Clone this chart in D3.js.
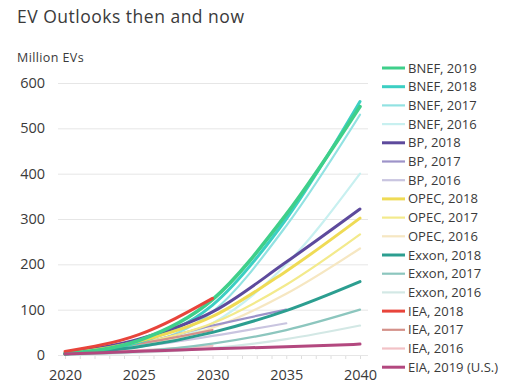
<!DOCTYPE html>
<html>
<head>
<meta charset="utf-8">
<script src="https://cdn.jsdelivr.net/npm/d3@7"></script>
<style>
  html, body { margin: 0; padding: 0; background: #fff; }
  text { font-family: "Open Sans", sans-serif; fill: #3a3a3a; }
</style>
</head>
<body>
<svg id="chart" width="513" height="385"></svg>
<script>
// series, in legend order
const seriesNames = ['BNEF, 2019', 'BNEF, 2018', 'BNEF, 2017', 'BNEF, 2016',
  'BP, 2018', 'BP, 2017', 'BP, 2016',
  'OPEC, 2018', 'OPEC, 2017', 'OPEC, 2016',
  'Exxon, 2018', 'Exxon, 2017', 'Exxon, 2016',
  'IEA, 2018', 'IEA, 2017', 'IEA, 2016',
  'EIA, 2019 (U.S.)'];
const seriesColors = ['#3fcf8a', '#3ccfc3', '#92e2e2', '#c8f0f0',
  '#5d4a9c', '#9d93c9', '#c9c5e0',
  '#efdb55', '#f3ea8c', '#f6e7c2',
  '#2c9e90', '#8cc6be', '#d3e8e5',
  '#e8443b', '#d4918a', '#f2c2c6',
  '#b3487f'];
// million EVs by year
const years = [2020, 2025, 2030, 2035, 2040];
const bnef2019 = [3, 32, 122, 310, 548];
const bnef2018 = [3, 28, 110, 300, 559];
const bnef2017 = [2, 22, 95, 285, 530];
const bnef2016 = [2, 18, 70, 200, 400];
const bp2018 = [4, 35, 95, 205, 322];
const bp2017 = [3, 25, 65, 100];
const bp2016 = [2, 18, 42, 70];
const opec2018 = [3, 30, 85, 185, 302];
const opec2017 = [2, 25, 70, 155, 266];
const opec2016 = [2, 20, 60, 135, 235];
const exxon2018 = [2, 18, 50, 98, 162];
const exxon2017 = [1, 8, 25, 55, 100];
const exxon2016 = [1, 5, 15, 35, 65];
const iea2018 = [8, 45, 125];
const iea2017 = [5, 25, 55];
const iea2016 = [2, 10, 20];
const eia2019 = [2, 8, 14, 18, 24];
const seriesValues = [bnef2019, bnef2018, bnef2017, bnef2016, bp2018, bp2017, bp2016,
  opec2018, opec2017, opec2016, exxon2018, exxon2017, exxon2016,
  iea2018, iea2017, iea2016, eia2019];
const yTicks = [0, 100, 200, 300, 400, 500, 600];
const xTicks = [2020, 2025, 2030, 2035, 2040];

const svg = d3.select('#chart');
const x = d3.scaleLinear().domain([2020, 2040]).range([65, 360]);
const y = d3.scaleLinear().domain([0, 600]).range([355, 83]);

svg.append('text').attr('x', 17).attr('y', 23).attr('font-size', 17.5).attr('letter-spacing', 0.5)
  .text('EV Outlooks then and now');
svg.append('text').attr('x', 17).attr('y', 62).attr('font-size', 12.5).attr('letter-spacing', 0.4)
  .text('Million EVs');

// gridlines + y labels
const yAxis = d3.axisLeft(y).tickValues(yTicks).tickSize(-310).tickPadding(13);
const gy = svg.append('g').attr('transform', 'translate(58,0)').call(yAxis);
gy.select('.domain').remove();
gy.selectAll('line').attr('stroke', '#e6e6e6');
gy.selectAll('text').attr('font-size', 14.5).attr('fill', '#4a4a4a').style('font-family', '"Open Sans", sans-serif');

// x axis with yearly minor ticks
const gxm = svg.append('g').attr('transform', 'translate(0,356)')
  .call(d3.axisBottom(x).tickValues(d3.range(2020, 2041)).tickSize(3).tickFormat(''));
gxm.select('.domain').remove();
gxm.selectAll('line').attr('stroke', '#dedede');
const gx = svg.append('g').attr('transform', 'translate(0,356)')
  .call(d3.axisBottom(x).tickValues(xTicks).tickSize(0).tickPadding(14).tickFormat(d3.format('d')));
gx.select('.domain').remove();
gx.selectAll('text').attr('font-size', 14.5).attr('fill', '#4a4a4a').style('font-family', '"Open Sans", sans-serif');

// lines: older editions underneath, newest on top
const widths = seriesNames.map((n, i) => i === 0 ? 3.6 : /2019|2018/.test(n) ? 3 : 2.2);
const drawOrder = [3, 6, 9, 12, 15, 2, 5, 8, 11, 14, 1, 4, 7, 10, 0, 13, 16];
const line = d3.line().x((d, i) => x(years[i])).y(d => y(d)).curve(d3.curveMonotoneX);
const lg = svg.append('g');
drawOrder.forEach(k => {
  lg.append('path').attr('d', line(seriesValues[k]))
    .attr('fill', 'none').attr('stroke', seriesColors[k])
    .attr('stroke-width', widths[k]).attr('stroke-linecap', 'round');
});

// legend
const leg = svg.append('g');
seriesNames.forEach((n, i) => {
  const yy = 68 + i * 18.7;
  leg.append('line').attr('x1', 382).attr('x2', 405).attr('y1', yy).attr('y2', yy)
    .attr('stroke', seriesColors[i]).attr('stroke-width', Math.min(widths[i], 3));
  leg.append('text').attr('x', 408).attr('y', yy).attr('dy', '0.35em')
    .attr('font-size', 13).attr('letter-spacing', 0).attr('fill', '#444').text(n);
});
</script>
</body>
</html>
